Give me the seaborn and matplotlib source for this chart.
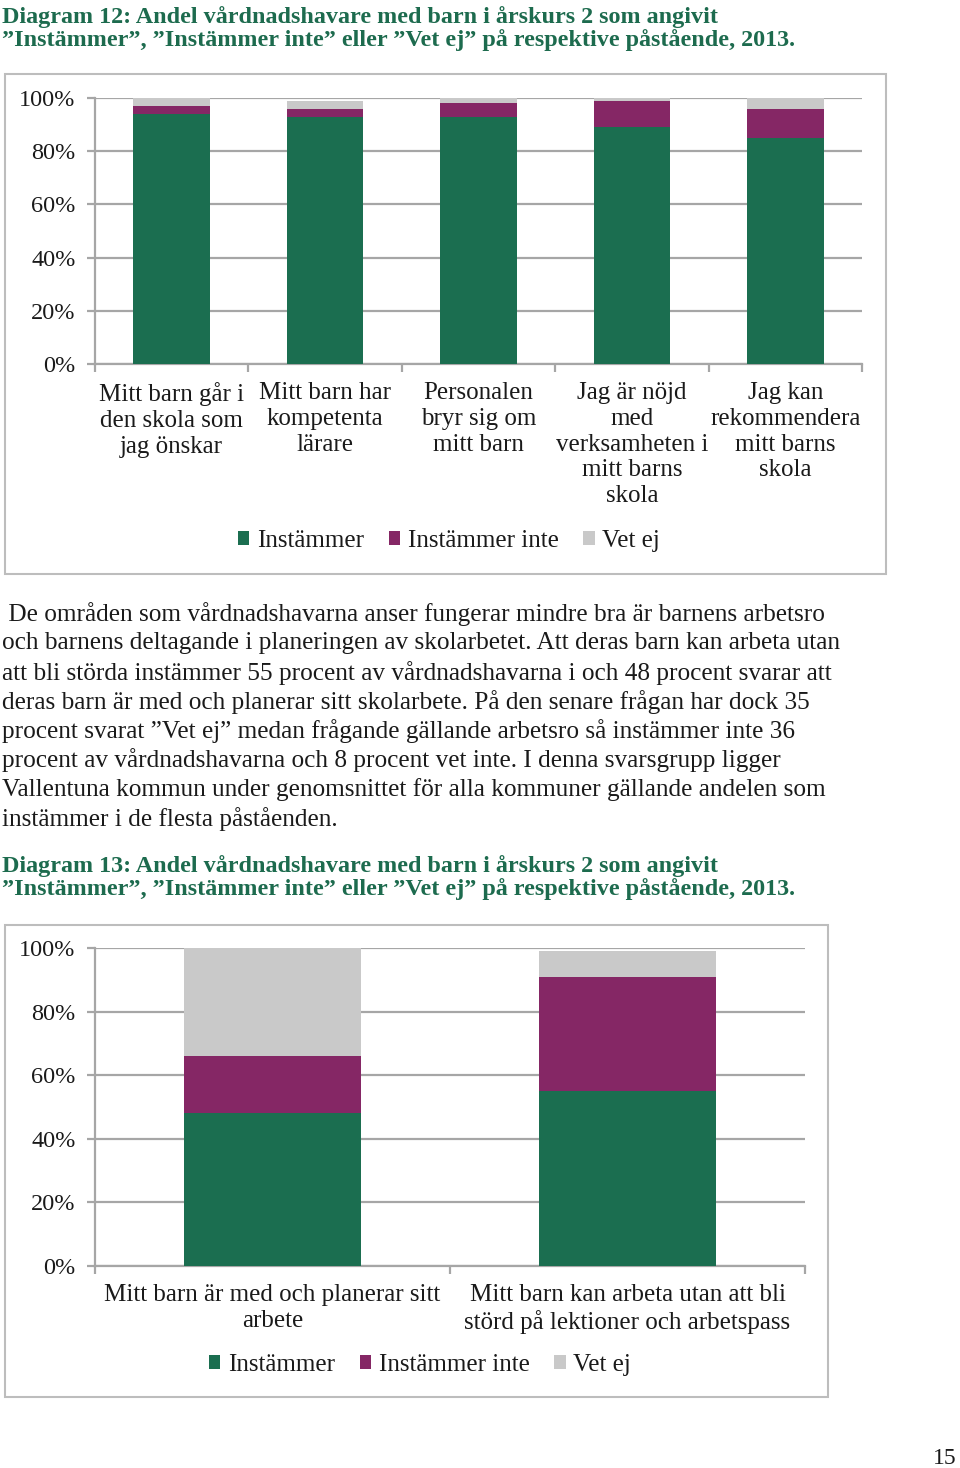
import matplotlib
matplotlib.use("Agg")
import matplotlib.pyplot as plt
import seaborn as sns
import pandas as pd
import numpy as np
from matplotlib.patches import Rectangle, Patch

sns.set_theme(style="white")
plt.rcParams['font.family'] = ['Liberation Serif', 'DejaVu Serif']

W, H = 960, 1468
GREEN = "#1b6e50"
PURPLE = "#852765"
GRAY = "#c9c9c9"
TITLE = "#1d6b4e"
GRID = "#a6a6a6"
FRAME = "#bdbdbd"

series_names = ["Instämmer", "Instämmer inte", "Vet ej"]
ytick_values = [0, 20, 40, 60, 80, 100]
ytick_labels = ["0%", "20%", "40%", "60%", "80%", "100%"]

cats1 = ["Mitt barn går i\nden skola som\njag önskar",
         "Mitt barn har\nkompetenta\nlärare",
         "Personalen\nbryr sig om\nmitt barn",
         "Jag är nöjd\nmed\nverksamheten i\nmitt barns\nskola",
         "Jag kan\nrekommendera\nmitt barns\nskola"]
inst1 = [94, 93, 93, 89, 85]
inte1 = [3, 3, 5, 10, 11]
vet1 = [3, 3, 2, 1, 4]

cats2 = ["Mitt barn är med och planerar sitt\narbete",
         "Mitt barn kan arbeta utan att bli\nstörd på lektioner och arbetspass"]
inst2 = [48, 55]
inte2 = [18, 36]
vet2 = [34, 8]

title1 = ["Diagram 12: Andel vårdnadshavare med barn i årskurs 2 som angivit",
          "”Instämmer”, ”Instämmer inte” eller ”Vet ej” på respektive påstående, 2013."]
title2 = ["Diagram 13: Andel vårdnadshavare med barn i årskurs 2 som angivit",
          "”Instämmer”, ”Instämmer inte” eller ”Vet ej” på respektive påstående, 2013."]
body = [" De områden som vårdnadshavarna anser fungerar mindre bra är barnens arbetsro",
        "och barnens deltagande i planeringen av skolarbetet. Att deras barn kan arbeta utan",
        "att bli störda instämmer 55 procent av vårdnadshavarna i och 48 procent svarar att",
        "deras barn är med och planerar sitt skolarbete. På den senare frågan har dock 35",
        "procent svarat ”Vet ej” medan frågande gällande arbetsro så instämmer inte 36",
        "procent av vårdnadshavarna och 8 procent vet inte. I denna svarsgrupp ligger",
        "Vallentuna kommun under genomsnittet för alla kommuner gällande andelen som",
        "instämmer i de flesta påståenden."]
page_number = "15"

fig = plt.figure(figsize=(W / 100, H / 100), dpi=100)
fig.patch.set_facecolor("white")


def fx(x):
    return x / W


def fy(y):
    return 1 - y / H


def add_axes(x0, y0, x1, y1):
    return fig.add_axes([fx(x0), fy(y1), fx(x1) - fx(x0), (y1 - y0) / H])


def draw_chart(ax, cats, inst, inte, vet):
    n = len(cats)
    df = pd.DataFrame({"cat": cats,
                       "a": inst,
                       "b": np.add(inst, inte),
                       "c": np.add(np.add(inst, inte), vet)})
    sns.barplot(data=df, x="cat", y="c", color=GRAY, width=0.5, saturation=1,
                ax=ax, zorder=3, linewidth=0)
    sns.barplot(data=df, x="cat", y="b", color=PURPLE, width=0.5, saturation=1,
                ax=ax, zorder=3, linewidth=0)
    sns.barplot(data=df, x="cat", y="a", color=GREEN, width=0.5, saturation=1,
                ax=ax, zorder=3, linewidth=0)
    ax.set_xlim(-0.5, n - 0.5)
    ax.set_ylim(0, 100)
    ax.set_xlabel("")
    ax.set_ylabel("")
    ax.set_yticks(ytick_values)
    ax.set_yticklabels(ytick_labels, fontsize=17.5, color="#1a1a1a")
    ax.yaxis.grid(True, color=GRID, linewidth=1.6, zorder=0)
    ax.set_axisbelow(True)
    for s in ["top", "right"]:
        ax.spines[s].set_visible(False)
    for s in ["left", "bottom"]:
        ax.spines[s].set_color(GRID)
        ax.spines[s].set_linewidth(1.6)
    ax.set_xticks(range(n))
    ax.set_xticklabels(cats, fontsize=18, linespacing=1.22, color="#1a1a1a")
    ax.set_xticks(np.arange(-0.5, n, 1.0), minor=True)
    ax.tick_params(axis="x", which="major", length=0, pad=13, bottom=True)
    ax.tick_params(axis="x", which="minor", length=6, width=1.6, color=GRID, bottom=True)
    ax.tick_params(axis="y", which="major", length=6, width=1.6, color=GRID, left=True, pad=8)
    ax.set_facecolor("white")


def frame(x0, y0, x1, y1):
    fig.add_artist(Rectangle((fx(x0), fy(y1)), fx(x1) - fx(x0), (y1 - y0) / H,
                             transform=fig.transFigure, fill=False,
                             edgecolor=FRAME, linewidth=1.5))


def legend(cx, cy):
    handles = [Patch(facecolor=c, edgecolor="none") for c in (GREEN, PURPLE, GRAY)]
    leg = fig.legend(handles, series_names, loc="center", bbox_to_anchor=(fx(cx), fy(cy)),
                     ncol=3, frameon=False, fontsize=18, handlelength=0.45, handleheight=0.45,
                     handletextpad=0.3, columnspacing=1.0)
    for t in leg.get_texts():
        t.set_color("#1a1a1a")


# Titles
for i, t in enumerate(title1):
    fig.text(fx(2), fy(17 + 23 * i), t, fontsize=17.4, fontweight="bold", color=TITLE,
             ha="left", va="center")
for i, t in enumerate(title2):
    fig.text(fx(2), fy(866 + 23 * i), t, fontsize=17.4, fontweight="bold", color=TITLE,
             ha="left", va="center")

# Chart 1
frame(5, 74, 886, 574)
ax1 = add_axes(95, 98, 862, 364)
draw_chart(ax1, cats1, inst1, inte1, vet1)
legend(449, 541)

# Body text
for i, line in enumerate(body):
    fig.text(fx(2), fy(614 + 29.3 * i), line, fontsize=18.2, color="#1a1a1a",
             ha="left", va="center")

# Chart 2
frame(5, 925, 828, 1397)
ax2 = add_axes(95, 948, 805, 1266)
draw_chart(ax2, cats2, inst2, inte2, vet2)
legend(420, 1365)

fig.text(fx(957), fy(1458), page_number, fontsize=17, color="#1a1a1a", ha="right", va="center")

fig.savefig("out.png", dpi=100, facecolor="white")
